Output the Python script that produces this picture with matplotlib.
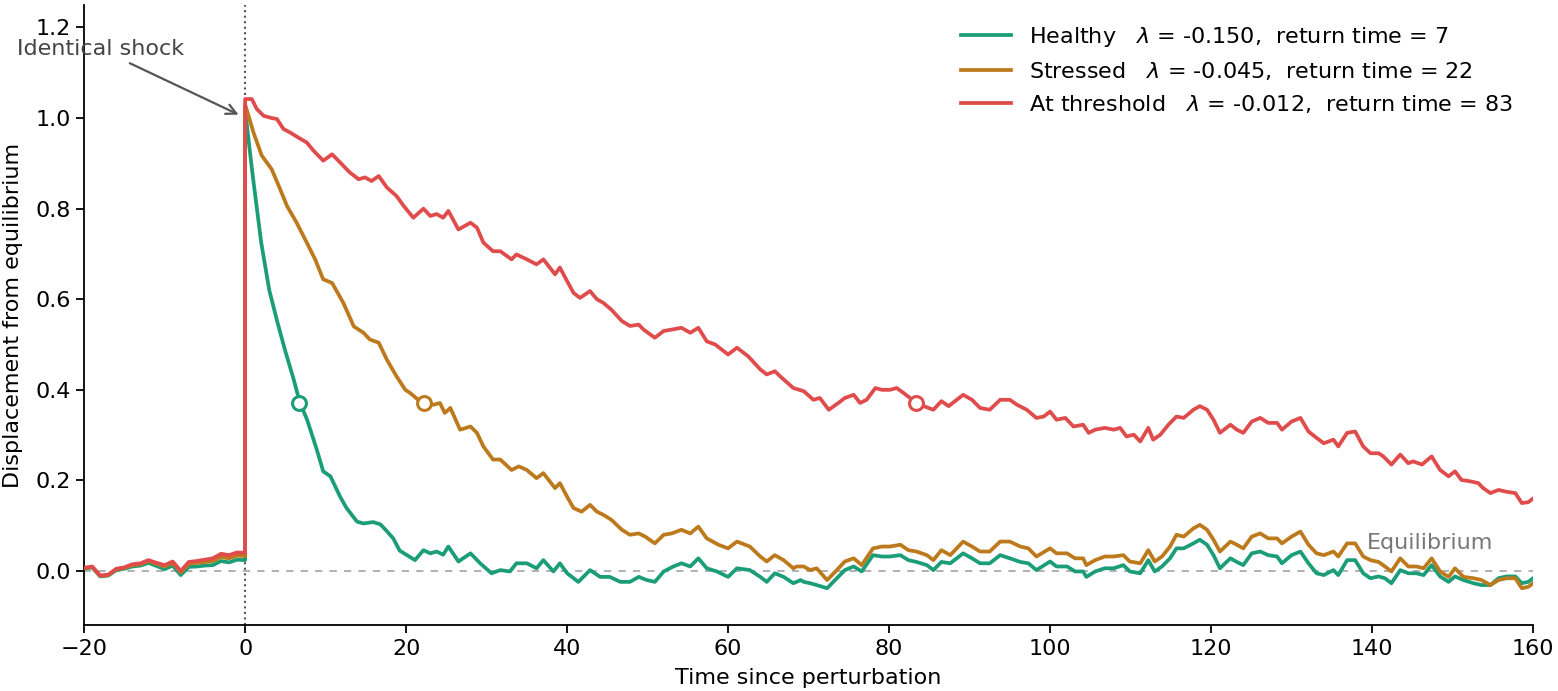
import numpy as np
from matplotlib import pyplot as plt

# ---- data ----
pre_t = [-20, -19, -18, -17, -16, -15, -14, -13, -12, -11, -10,
         -9, -8, -7, -6, -5, -4, -3, -2, -1, 0]

healthy_pre = [0.005, 0.008, -0.012, -0.010, 0.002, 0.005, 0.010, 0.012, 0.018, 0.011, 0.004,
               0.012, -0.009, 0.009, 0.010, 0.012, 0.013, 0.022, 0.019, 0.025, 0.024]
stressed_pre = [0.006, 0.009, -0.011, -0.009, 0.004, 0.007, 0.013, 0.015, 0.022, 0.016, 0.010,
                0.018, -0.003, 0.016, 0.018, 0.020, 0.022, 0.031, 0.028, 0.034, 0.033]
threshold_pre = [0.007, 0.010, -0.010, -0.008, 0.005, 0.008, 0.015, 0.017, 0.024, 0.018, 0.013,
                 0.021, 0.000, 0.020, 0.022, 0.025, 0.028, 0.038, 0.035, 0.041, 0.040]

healthy_t = [0, 0.5, 1, 2, 3, 4, 5, 6, 6.8, 7.7, 8.9, 9.7, 10.6, 11.8, 12.6, 13.9, 14.7, 15.9,
             16.8, 17.5, 18.4, 19.2, 20.1, 21.1, 22.15, 23, 23.8, 24.6, 25.25, 26.5, 28, 29.2,
             30.6, 31.7, 32.9, 33.7, 35, 36.2, 37.05, 38.3, 39.1, 40, 41.4, 42.85, 44.1, 45.3,
             46.6, 47.8, 48.9, 49.9, 50.9, 52, 53.2, 54.2, 55.3, 56.3, 57.35, 58.6, 60, 61.1,
             62.7, 64, 64.8, 65.8, 66.9, 68.1, 69, 69.4, 70.2, 71, 72.3, 73.5, 74.5, 75.6, 76.6,
             78, 79.1, 80.1, 81.4, 82.4, 83.4, 84.7, 85.5, 86.5, 87.6, 89.2, 90.3, 91.3, 92.5,
             93.8, 95, 96.3, 97.3, 98.3, 100, 100.8, 102.1, 103.1, 104.1, 104.5, 105.6, 106.8,
             107.9, 109.1, 109.9, 111.2, 112.2, 113, 113.9, 114.9, 115.7, 116.6, 117.8, 118.6,
             119.5, 120.3, 121.1, 122.4, 123.2, 124, 125.05, 126.1, 127.1, 128.2, 128.8, 130,
             131.1, 132.1, 133.1, 134, 135.2, 135.8, 136.9, 137.9, 138.9, 139.8, 140.8, 141.6,
             142.4, 143.5, 144.5, 145.5, 146.4, 147.4, 148.45, 149.5, 150.3, 151.35, 152.6,
             153.6, 154.7, 155.7, 156.7, 157.8, 158.6, 159.4, 160]
healthy_v = [1.02, 0.94, 0.865, 0.725, 0.62, 0.55, 0.485, 0.425, 0.372, 0.334, 0.268, 0.22, 0.209,
             0.164, 0.139, 0.109, 0.105, 0.108, 0.103, 0.09, 0.072, 0.045, 0.035, 0.024, 0.046,
             0.039, 0.043, 0.036, 0.054, 0.021, 0.039, 0.017, -0.005, 0.002, -0.001, 0.017,
             0.017, 0.006, 0.024, -0.001, 0.017, -0.005, -0.024, 0.002, -0.013, -0.013, -0.024,
             -0.024, -0.013, -0.020, -0.024, -0.001, 0.010, 0.017, 0.010, 0.028, 0.006, -0.001,
             -0.013, 0.006, 0.002, -0.013, -0.024, -0.005, -0.013, -0.027, -0.020, -0.024,
             -0.027, -0.031, -0.038, -0.016, 0.002, 0.010, -0.001, 0.035, 0.032, 0.032, 0.035,
             0.024, 0.020, 0.013, 0.002, 0.020, 0.017, 0.039, 0.028, 0.017, 0.017, 0.035, 0.028,
             0.020, 0.017, 0.002, 0.021, 0.010, 0.010, -0.001, -0.001, -0.013, -0.001, 0.006,
             0.006, 0.013, -0.001, -0.005, 0.024, -0.001, 0.010, 0.028, 0.050, 0.050, 0.061,
             0.069, 0.058, 0.035, 0.006, 0.028, 0.020, 0.013, 0.039, 0.043, 0.035, 0.032, 0.017,
             0.035, 0.043, 0.017, -0.005, -0.009, 0.002, -0.009, 0.024, 0.024, -0.005, -0.016,
             -0.012, -0.016, -0.027, 0.002, -0.005, -0.005, -0.009, 0.013, -0.012, -0.024,
             -0.012, -0.020, -0.027, -0.031, -0.031, -0.016, -0.012, -0.012, -0.027, -0.024,
             -0.016]

stressed_t = [0, 1.04, 2.07, 3.3, 4.35, 5.2, 6.4, 7.66, 8.7, 9.7, 10.8, 12.2, 13.5, 14.7, 15.5,
              16.6, 17.6, 18.8, 19.9, 20.5, 21.5, 22.2, 23.4, 24.2, 24.8, 25.5, 26.7, 28, 28.8,
              29.6, 30.8, 31.7, 33.1, 34, 35, 36.2, 37.05, 38.5, 39.1, 40, 40.8, 41.8, 42.85,
              43.7, 44.5, 45.5, 46.8, 47.8, 48.9, 49.7, 50.9, 52, 53, 54.2, 55.3, 56.3, 57.35,
              58.8, 60, 61.1, 62.7, 64, 64.8, 65.8, 66.9, 68.1, 68.5, 69.4, 70.2, 71, 72.3, 73.5,
              74.5, 75.6, 76.6, 78, 79.1, 80.1, 81.4, 82.4, 83.4, 84.7, 85.5, 86.5, 87.6, 89.2,
              90.3, 91.3, 92.5, 93.8, 95, 96.3, 97.3, 98.3, 100, 100.8, 102.1, 103.1, 104.1,
              104.5, 105.6, 106.8, 107.9, 109.1, 109.9, 111.2, 112.2, 113, 113.9, 114.9, 115.7,
              116.6, 117.8, 118.6, 119.5, 120.3, 121.1, 122.4, 123.2, 124, 125.05, 126.1, 127.1,
              128.2, 128.8, 130, 131.1, 132.1, 133.1, 134, 135.2, 135.8, 136.9, 137.9, 138.9,
              139.8, 140.8, 141.6, 142.4, 143.5, 144.5, 145.5, 146.4, 147.4, 148.45, 149.5,
              150.3, 151.35, 152.6, 153.6, 154.7, 155.7, 156.7, 157.8, 158.6, 159.4, 160]
stressed_v = [1.03, 0.968, 0.917, 0.887, 0.843, 0.806, 0.769, 0.725, 0.688, 0.644, 0.636, 0.592,
              0.540, 0.526, 0.511, 0.504, 0.467, 0.430, 0.400, 0.393, 0.378, 0.371, 0.367, 0.371,
              0.349, 0.360, 0.312, 0.319, 0.305, 0.275, 0.246, 0.246, 0.223, 0.231, 0.223, 0.205,
              0.216, 0.183, 0.194, 0.164, 0.139, 0.131, 0.146, 0.131, 0.124, 0.113, 0.091, 0.080,
              0.083, 0.076, 0.061, 0.080, 0.083, 0.091, 0.083, 0.098, 0.072, 0.058, 0.050, 0.065,
              0.054, 0.032, 0.021, 0.035, 0.024, 0.006, 0.010, 0.010, 0.002, 0.006, -0.020, 0.002,
              0.021, 0.028, 0.013, 0.050, 0.054, 0.054, 0.058, 0.046, 0.043, 0.035, 0.024, 0.046,
              0.035, 0.065, 0.054, 0.043, 0.043, 0.065, 0.065, 0.054, 0.050, 0.032, 0.050, 0.039,
              0.039, 0.028, 0.028, 0.013, 0.024, 0.032, 0.032, 0.035, 0.021, 0.017, 0.046, 0.021,
              0.032, 0.054, 0.080, 0.076, 0.094, 0.102, 0.091, 0.069, 0.043, 0.065, 0.058, 0.050,
              0.076, 0.083, 0.072, 0.072, 0.061, 0.076, 0.087, 0.058, 0.039, 0.035, 0.043, 0.032,
              0.061, 0.061, 0.032, 0.024, 0.020, 0.010, -0.001, 0.028, 0.010, 0.010, 0.006, 0.028,
              -0.001, -0.013, 0.006, -0.013, -0.016, -0.020, -0.031, -0.020, -0.016, -0.016,
              -0.038, -0.035, -0.027]

threshold_t = [0, 0.83, 1.45, 2.3, 3.3, 3.95, 4.76, 5.6, 6.6, 7.66, 8.5, 9.7, 10.8, 11.8, 13.0,
               14.1, 14.9, 15.7, 16.6, 17.6, 18.8, 19.7, 20.9, 22.15, 23, 23.8, 24.6, 25.25, 26.5,
               28, 28.8, 29.6, 30.8, 31.7, 33.1, 33.7, 35, 36.2, 37.05, 38.5, 39.1, 40, 40.8,
               41.6, 42.85, 43.7, 44.5, 45.5, 46.8, 47.8, 48.9, 49.5, 50.9, 52, 53, 54.2, 55.3,
               56.3, 57.35, 58.4, 60, 61.1, 62.5, 64, 64.8, 65.8, 66.7, 68.1, 69.4, 70.6, 71.4,
               72.5, 73.7, 74.5, 75.6, 76.4, 77.2, 78.3, 79.1, 80.1, 80.95, 81.8, 82.6, 83.35,
               84.3, 85.5, 86.5, 87.4, 88.2, 89.2, 90.3, 91.3, 92.5, 93.8, 95, 95.9, 97.1, 98.3,
               99.2, 100, 100.8, 101.9, 102.9, 104.1, 104.8, 105.6, 106.8, 107.9, 108.7, 109.5,
               110.4, 111.2, 112.2, 112.8, 113.7, 114.7, 115.7, 116.6, 117.8, 118.6, 119.5, 120.3,
               121.1, 122.4, 123.2, 124, 125.05, 126.1, 127.1, 128.2, 128.8, 130, 131.1, 132.1,
               133.1, 134, 135.2, 135.8, 136.9, 137.9, 138.9, 139.8, 140.8, 141.4, 142.4, 143.5,
               144.5, 145.1, 146.2, 147.4, 148.45, 149.5, 150.3, 151.1, 152.2, 153.2, 153.8,
               154.7, 155.7, 156.7, 157.8, 158.6, 159.4, 160]
threshold_v = [1.042, 1.042, 1.02, 1.005, 1.000, 0.998, 0.976, 0.968, 0.957, 0.946, 0.928, 0.906,
               0.920, 0.902, 0.880, 0.865, 0.869, 0.861, 0.872, 0.847, 0.828, 0.806, 0.780, 0.800,
               0.784, 0.788, 0.780, 0.795, 0.754, 0.769, 0.758, 0.725, 0.706, 0.706, 0.688, 0.699,
               0.688, 0.677, 0.688, 0.655, 0.670, 0.640, 0.614, 0.603, 0.618, 0.600, 0.592, 0.577,
               0.552, 0.541, 0.544, 0.533, 0.515, 0.530, 0.533, 0.537, 0.526, 0.537, 0.507, 0.500,
               0.478, 0.493, 0.474, 0.445, 0.434, 0.441, 0.426, 0.404, 0.397, 0.378, 0.382, 0.356,
               0.371, 0.382, 0.389, 0.371, 0.378, 0.404, 0.400, 0.400, 0.404, 0.393, 0.382, 0.370,
               0.364, 0.356, 0.375, 0.364, 0.375, 0.389, 0.378, 0.360, 0.356, 0.378, 0.378, 0.367,
               0.356, 0.338, 0.341, 0.352, 0.334, 0.338, 0.319, 0.323, 0.305, 0.312, 0.316, 0.312,
               0.316, 0.297, 0.301, 0.286, 0.316, 0.290, 0.301, 0.323, 0.341, 0.338, 0.356, 0.364,
               0.356, 0.334, 0.305, 0.323, 0.312, 0.305, 0.330, 0.338, 0.327, 0.327, 0.312, 0.330,
               0.338, 0.308, 0.294, 0.282, 0.290, 0.275, 0.305, 0.308, 0.275, 0.260, 0.260, 0.253,
               0.235, 0.257, 0.238, 0.242, 0.235, 0.253, 0.223, 0.209, 0.220, 0.201, 0.198, 0.194,
               0.183, 0.172, 0.179, 0.175, 0.172, 0.150, 0.152, 0.160]

labels = ['Healthy', 'Stressed', 'At threshold']
lambdas = ['-0.150', '-0.045', '-0.012']
return_times = [7, 22, 83]
marker_t = [6.67, 22.2, 83.3]
marker_v = [0.371, 0.371, 0.370]
colors = ['#1b9e77', '#bd7a1d', '#e04b4b']

# ---- plotting ----
plt.rcParams['font.family'] = ['DejaVu Sans']
plt.rcParams['font.size'] = 16

fig, ax = plt.subplots(figsize=(15.58, 6.91), dpi=100)
plt.subplots_adjust(left=0.054, right=0.984, bottom=0.095, top=0.993)

ax.axhline(0, color='#aaaaaa', linestyle=(0, (4, 4)), linewidth=1.3, zorder=1)
ax.axvline(0, color='#555555', linestyle=':', linewidth=1.5, zorder=1)

series = [(healthy_pre, healthy_t, healthy_v),
          (stressed_pre, stressed_t, stressed_v),
          (threshold_pre, threshold_t, threshold_v)]
for i, (pre, tt, vv) in enumerate(series):
    t_all = list(pre_t) + list(tt)
    v_all = list(pre) + list(vv)
    lab = f'{labels[i]}   $\\lambda$ = {lambdas[i]},  return time = {return_times[i]}'
    ax.plot(t_all, v_all, color=colors[i], linewidth=2.7, label=lab, zorder=2 + i)

for i in range(3):
    ax.plot(marker_t[i], marker_v[i], marker='o', markersize=10, markerfacecolor='white',
            markeredgecolor=colors[i], markeredgewidth=2.2, linestyle='', zorder=6)

ax.annotate('Identical shock', xy=(-0.5, 1.005), xytext=(-18, 1.152),
            ha='center', va='center', color='#444444', fontsize=16,
            arrowprops=dict(arrowstyle='->', color='#555555', linewidth=1.6, mutation_scale=18))
ax.text(155, 0.04, 'Equilibrium', ha='right', va='bottom', color='#777777', fontsize=16)

ax.set_xlim(-20, 160)
ax.set_ylim(-0.12, 1.25)
ax.set_xticks(np.arange(-20, 161, 20))
ax.set_yticks([0.0, 0.2, 0.4, 0.6, 0.8, 1.0, 1.2])
ax.set_xlabel('Time since perturbation', labelpad=7)
ax.set_ylabel('Displacement from equilibrium', labelpad=9)
ax.spines['top'].set_visible(False)
ax.spines['right'].set_visible(False)
for s in ['left', 'bottom']:
    ax.spines[s].set_linewidth(1.3)
ax.tick_params(length=6, width=1.3)

ax.legend(loc='upper right', frameon=False, handlelength=2.25, fontsize=16)

fig.savefig('out.png', dpi=100)
